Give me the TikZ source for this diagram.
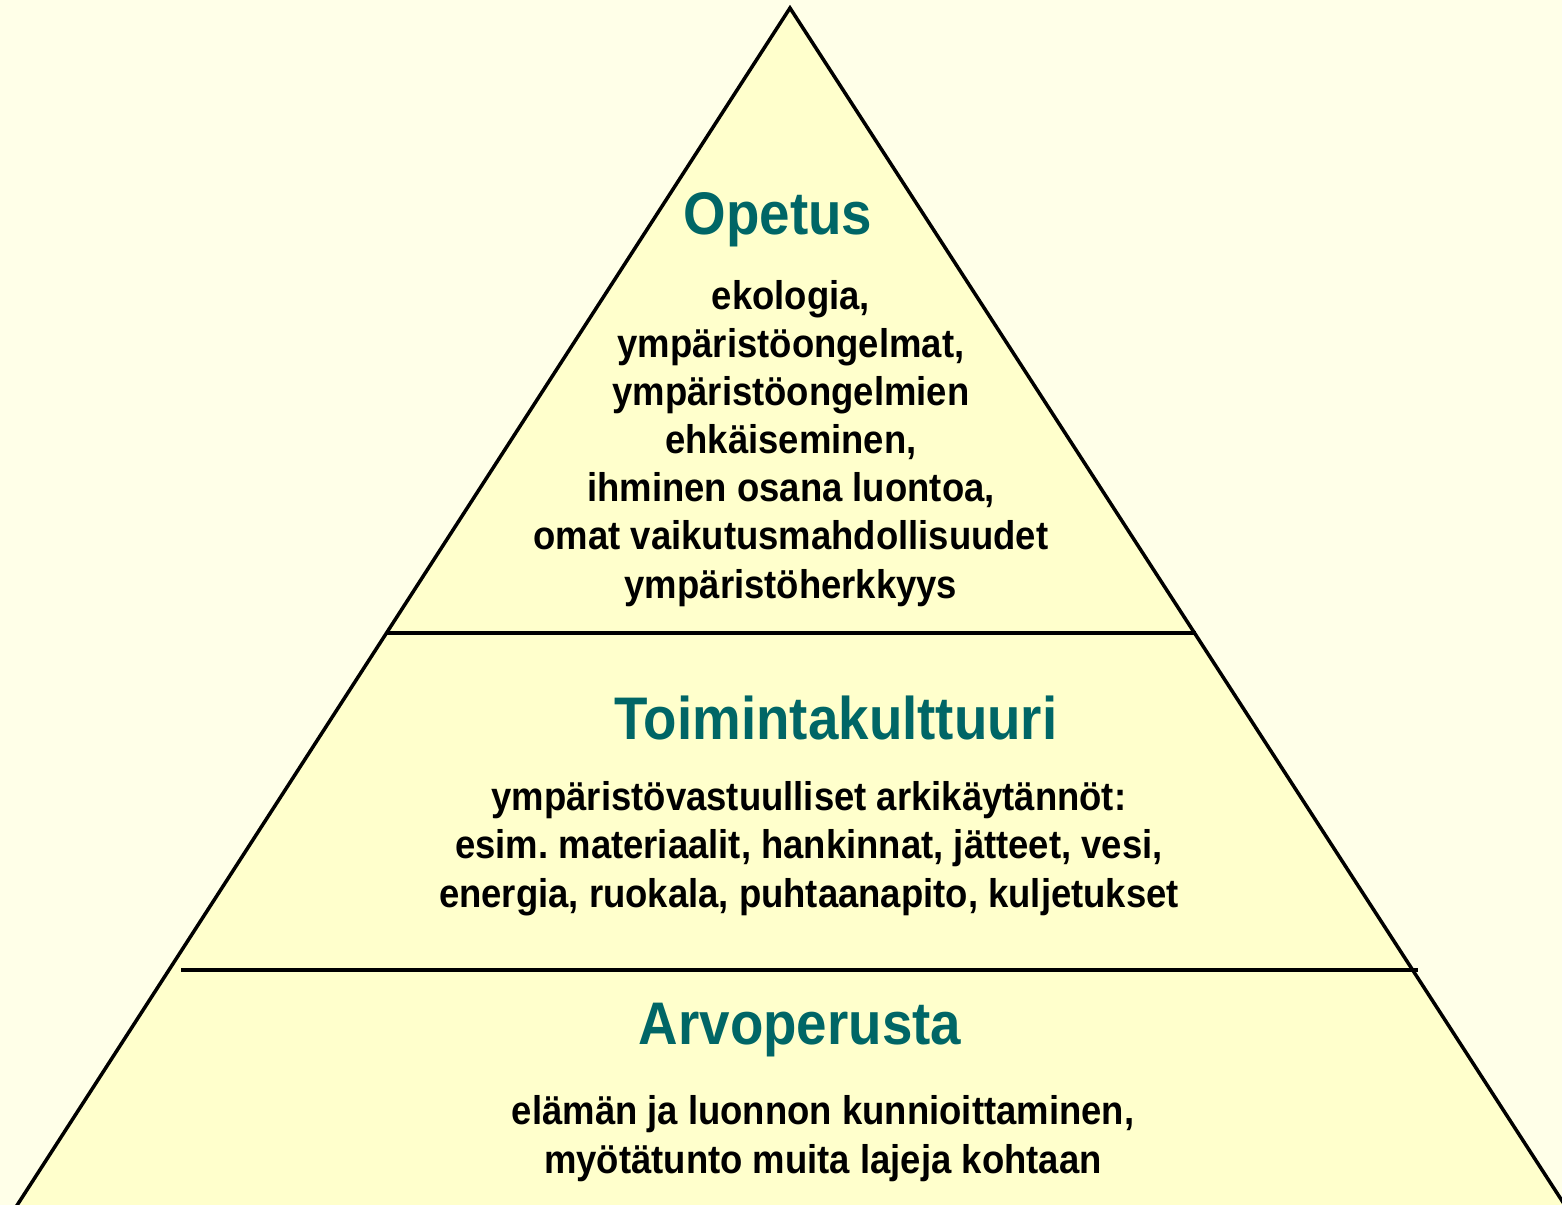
\documentclass[tikz,border=0pt]{standalone}
\usepackage{fontspec}
\newfontfamily\pyrfont{Liberation Sans}[FakeStretch=0.91]
\usetikzlibrary{positioning, calc}
\definecolor{taustav}{HTML}{FFFFE8}
\definecolor{pyrv}{HTML}{FFFFCC}
\definecolor{otsv}{HTML}{006666}
\frenchspacing

\begin{document}
\begin{tikzpicture}[x=0.01cm, y=-0.01cm]

	\tikzstyle{otsikko}=[anchor=base, inner sep=0pt, text=otsv, font=\pyrfont\bfseries\fontsize{17.1}{20}\selectfont]
	\tikzstyle{teksti}=[anchor=base, inner sep=0pt, align=center, font=\pyrfont\bfseries\fontsize{11.4}{13.66}\selectfont]
	\tikzstyle{reuna}=[line width=1pt, line join=miter]

	\fill[taustav] (0, 0) rectangle (1562, 1205);
	\useasboundingbox (0, 0) rectangle (1562, 1205);

	\coordinate (huippu) at (790, 8);
	\coordinate (vasen) at (14, 1210); % POHJA
	\coordinate (oikea) at (1568, 1210); % POHJA

	\coordinate (raja_1_v) at (386, 633); % YLAREUNA
	\coordinate (raja_1_o) at (1196, 633);
	\coordinate (raja_2_v) at (181, 970); % ALAREUNA
	\coordinate (raja_2_o) at (1418, 970);

	\fill[pyrv] (vasen) -- (huippu) -- (oikea) -- cycle;
	\draw[reuna] (vasen) -- (huippu) -- (oikea);

	\draw[line width=1.25pt] (raja_1_v) -- (raja_1_o);
	\draw[line width=1pt] (raja_2_v) -- (raja_2_o);

	% tekstien base = viimeisen rivin peruslinja
	\node[otsikko] (opetus) at (778, 234) {Opetus};
	\node[teksti] (opetus_t) at (791, 598) {ekologia,\\ ympäristöongelmat,\\ ympäristöongelmien\\ ehkäiseminen,\\ ihminen osana luontoa,\\ omat vaikutusmahdollisuudet\\ ympäristöherkkyys};

	\node[otsikko] (toiminta) at (836, 739) {Toimintakulttuuri};
	\node[teksti] (toiminta_t) at (809, 907) {ympäristövastuulliset arkikäytännöt:\\ esim. materiaalit, hankinnat, jätteet, vesi,\\ energia, ruokala, puhtaanapito, kuljetukset};

	\node[otsikko] (arvo) at (800, 1044) {Arvoperusta};
	\node[teksti] (arvo_t) at (823, 1173) {elämän ja luonnon kunnioittaminen,\\ myötätunto muita lajeja kohtaan};

\end{tikzpicture}
\end{document}
